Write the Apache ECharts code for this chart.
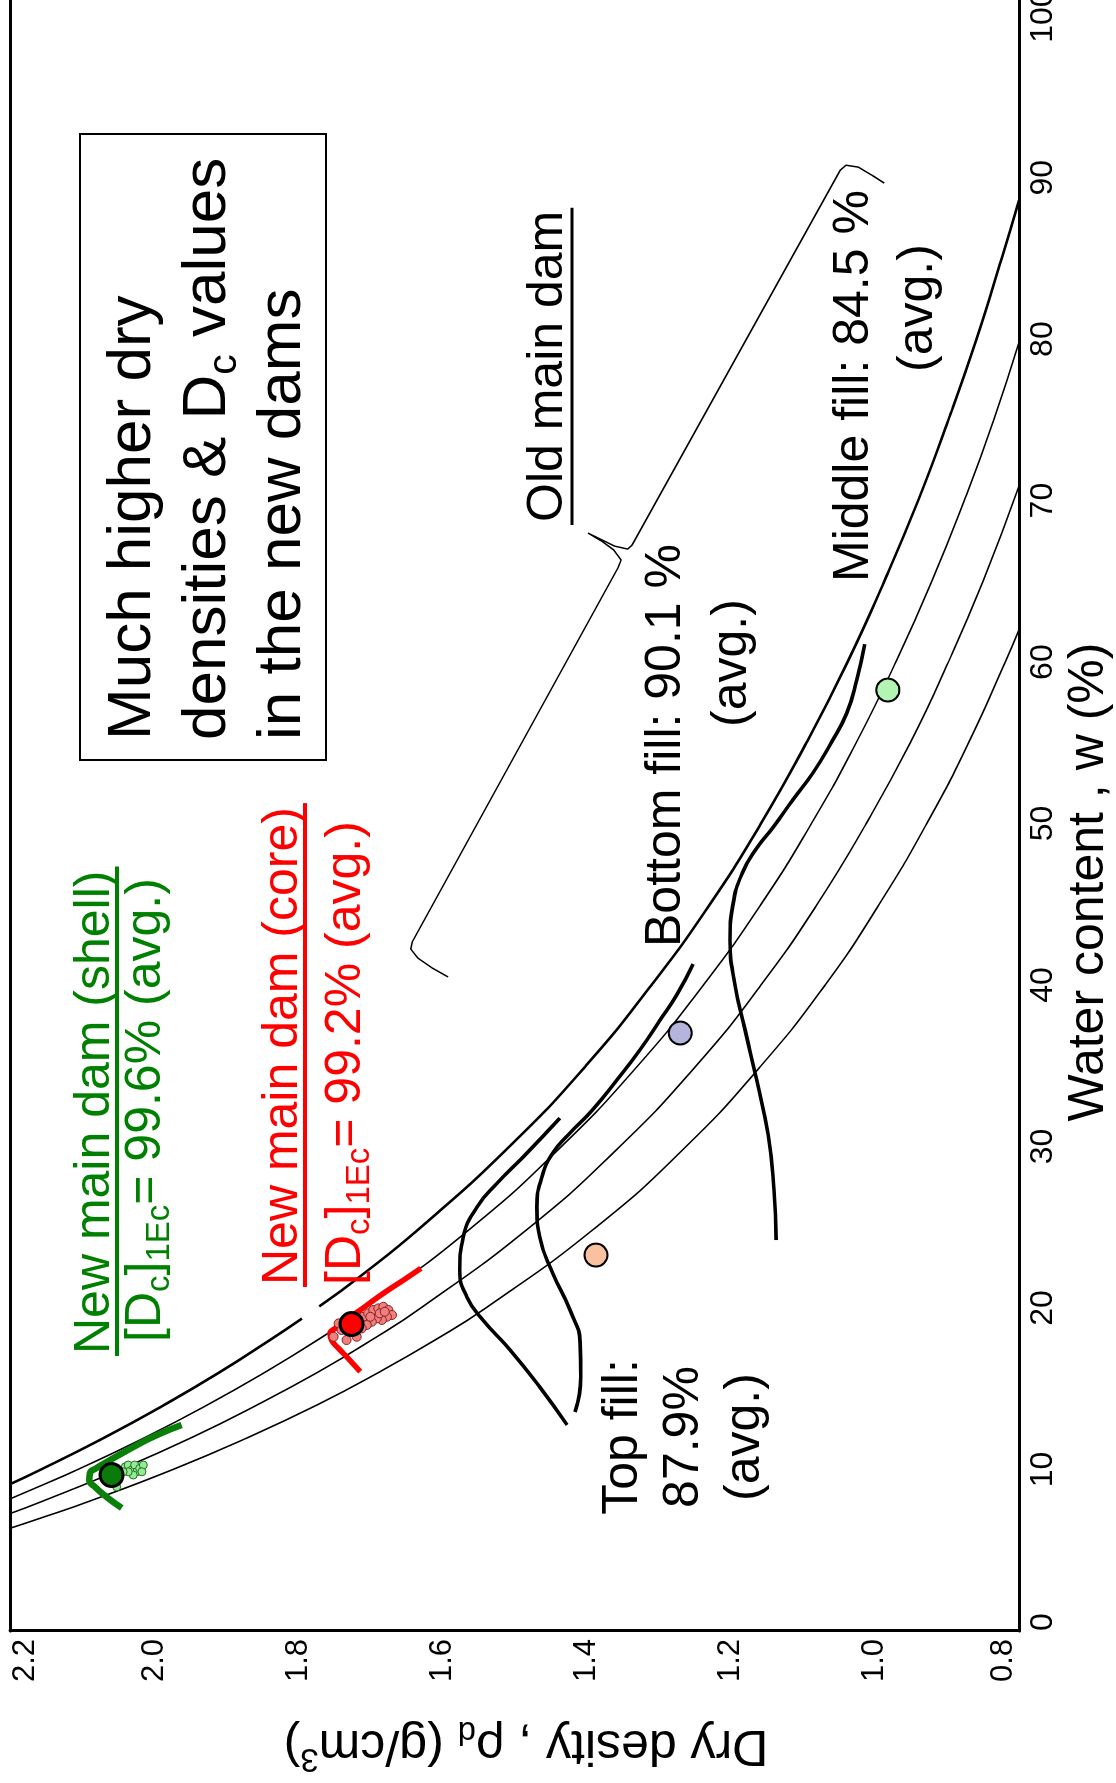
<!DOCTYPE html>
<html>
<head>
<meta charset="utf-8">
<script src="https://cdn.jsdelivr.net/npm/echarts@6/dist/echarts.min.js"></script>
<style>
  html, body { margin: 0; padding: 0; background: #fff; width: 1116px; height: 1783px; overflow: hidden; }
  /* the plot is laid out landscape and turned a quarter turn counter-clockwise */
  #chart { position: absolute; left: 0; top: 0; width: 1783px; height: 1116px;
           transform-origin: 0 0; transform: translate(0, 1783px) rotate(-90deg); }
</style>
</head>
<body>
<div id="chart"></div>
<script>
// ---- axes -------------------------------------------------------------
const waterRange = [0, 101];      // water content w (%)
const waterStep = 10;
const densityRange = [0.8, 2.2];  // dry density (g/cm3)
const densityStep = 0.2;

// ---- degree-of-saturation curves, [w %, rho_d] ---------------------------
const sat100Lower = [[9.09,2.2],[10,2.157],[12,2.068],[14,1.986],[16,1.910],[18,1.840],[19.35,1.795]];
const sat100Upper = [[20.1,1.771],[22,1.713],[25,1.630],[30,1.507],[35,1.401],[40,1.310],[45,1.229],[50,1.158],
  [55,1.095],[60,1.038],[65,0.987],[70,0.940],[75,0.898],[80,0.859],[85,0.824],[88.6,0.800]];
const sat90 = [[8.18,2.2],[9,2.157],[10,2.106],[12,2.012],[14,1.926],[16,1.847],[18,1.774],[20,1.707],[25,1.559],
  [30,1.435],[35,1.329],[40,1.238],[45,1.158],[50,1.088],[55,1.026],[60,0.971],[65,0.921],[70,0.876],[75,0.835],[79.8,0.800]];
const sat80 = [[7.27,2.2],[8,2.157],[10,2.047],[12,1.947],[14,1.857],[16,1.774],[18,1.699],[20,1.630],[25,1.479],
  [30,1.354],[35,1.248],[40,1.158],[45,1.080],[50,1.012],[55,0.951],[60,0.898],[65,0.850],[70.9,0.800]];
const sat70 = [[6.36,2.2],[7,2.157],[8,2.092],[10,1.974],[12,1.869],[14,1.774],[16,1.689],[18,1.611],[20,1.540],
  [25,1.387],[30,1.262],[35,1.158],[40,1.069],[45,0.994],[50,0.928],[55,0.870],[60,0.819],[62.0,0.800]];

// ---- old main dam compaction curves -------------------------------------
const topFill = [[12.76,1.427],[15.11,1.465],[17.40,1.506],[19.26,1.544],[20.68,1.566],[22.35,1.576],[24.40,1.571],
  [26.25,1.552],[27.74,1.524],[29.35,1.488],[31.76,1.437]];
const bottomFill = [[13.56,1.416],[15.73,1.408],[17.83,1.409],[19.88,1.423],[22.17,1.447],[24.40,1.465],[26.25,1.469],
  [28.11,1.462],[29.60,1.447],[30.84,1.423],[32.26,1.392],[34.12,1.358],[35.98,1.326],[37.83,1.298],[39.38,1.275],[41.30,1.252]];
const middleFill = [[24.21,1.137],[27.31,1.140],[30.71,1.148],[34.12,1.164],[37.21,1.180],[40.00,1.194],[42.79,1.201],
  [44.95,1.197],[46.93,1.184],[48.48,1.164],[49.78,1.141],[51.46,1.114],[53.13,1.086],[55.05,1.060],[56.84,1.039],
  [58.89,1.025],[61.11,1.014]];
const topFillAvg = [[23.28,1.387]];
const bottomFillAvg = [[37.03,1.270]];
const middleFillAvg = [[58.27,0.982]];

// brace grouping the old main dam results
const oldDamBrace = [[40.50,1.592],[41.05,1.614],[41.67,1.634],[42.23,1.644],[42.66,1.642],[65.88,1.356],[66.32,1.352],
  [66.93,1.362],[67.49,1.379],[67.99,1.398],[67.62,1.381],[67.18,1.361],[67.00,1.343],[67.24,1.337],[90.46,1.048],
  [90.77,1.040],[90.65,1.023],[90.15,1.004],[89.66,0.987]];

// ---- new main dam ----------------------------------------------------------
const shellCurve = [[7.62,2.045],[8.30,2.066],[8.92,2.082],[9.35,2.090],[9.78,2.089],[10.09,2.080],[10.59,2.061],
  [11.39,2.029],[12.14,1.996],[12.76,1.962]];
const shellTests = [[10.17,2.040],[10.28,2.036],[9.97,2.031],[10.28,2.027],[9.86,2.024],[10.07,2.020],[10.28,2.015],
  [9.86,2.017],[9.66,2.029],[9.86,2.036],[9.86,2.043],[8.93,2.052]];
const shellAvg = [[9.66,2.059]];
const coreCurve = [[16.06,1.714],[16.89,1.731],[17.50,1.744],[18.02,1.754],[18.43,1.756],[18.74,1.749],[19.15,1.738],
  [19.88,1.714],[20.91,1.682],[21.73,1.654],[22.46,1.630]];
const coreTests = [[19.05,1.744],[18.64,1.740],[18.22,1.751],[18.02,1.733],[18.22,1.719],[19.46,1.710],[19.67,1.703],
  [19.88,1.696],[19.98,1.689],[20.08,1.682],[19.88,1.675],[19.57,1.670],[19.46,1.677],[19.26,1.684],[19.36,1.691],
  [19.15,1.698],[18.95,1.705],[18.74,1.712],[19.46,1.700],[19.67,1.687],[19.77,1.680]];
const coreAvg = [[19.01,1.726]];

// ---- drawing --------------------------------------------------------------
const FONT = '"Liberation Sans", Arial, Helvetica, sans-serif';
const GREEN = '#008000', RED = '#ff0000';

const measureCtx = document.createElement('canvas').getContext('2d');
function textWidth(str, size) {
  measureCtx.font = size + 'px ' + FONT;
  return measureCtx.measureText(str).width;
}

function line(data, color, width, smooth) {
  return { type: 'line', data: data, symbol: 'none', smooth: smooth === undefined ? true : smooth,
           lineStyle: { color: color, width: width }, silent: true, z: 2 };
}
function dots(data, size, fill, border, borderWidth) {
  return { type: 'scatter', data: data, symbol: 'circle', symbolSize: size, silent: true, z: 4,
           itemStyle: { color: fill, borderColor: border, borderWidth: borderWidth, opacity: 1 } };
}

function label(x, y, text, size, color, extra) {
  const sub = { fontSize: Math.round(size * 0.66), lineHeight: Math.round(size * 0.66), verticalAlign: 'bottom',
                fontFamily: FONT, fill: color };
  const sup = { fontSize: Math.round(size * 0.66), lineHeight: Math.round(size * 0.66), verticalAlign: 'top',
                fontFamily: FONT, fill: color };
  return Object.assign({
    type: 'text', x: x, y: y, z: 10, silent: true,
    style: Object.assign({
      text: text, fontSize: size, fontFamily: FONT, fill: color,
      align: 'left', textAlign: 'left', verticalAlign: 'middle', textVerticalAlign: 'middle',
      lineHeight: Math.round(size * 1.2),
      rich: { s: sub, p: sup }
    }, (extra && extra.style) || {})
  }, extra && extra.el ? extra.el : {});
}
function underline(x1, x2, y, color, w) {
  return { type: 'line', z: 10, silent: true, shape: { x1: x1, y1: y, x2: x2, y2: y },
           style: { stroke: color, lineWidth: w } };
}

const chart = echarts.init(document.getElementById('chart'), null, { renderer: 'canvas', width: 1783, height: 1116 });

const axisLineStyle = { show: true, onZero: false, lineStyle: { color: '#000', width: 3 } };

const option = {
  animation: false,
  backgroundColor: '#fff',
  grid: { left: 152, right: 0, top: 10, bottom: 97, containLabel: false, outerBoundsMode: 'none' },
  xAxis: [
    { type: 'value', position: 'bottom', min: waterRange[0], max: waterRange[1], interval: waterStep,
      axisLine: axisLineStyle, axisTick: { show: false }, splitLine: { show: false },
      axisLabel: { show: true, color: '#000', fontSize: 32, fontFamily: FONT, margin: 8,
                   showMaxLabel: false, alignMinLabel: 'left' } },
    { type: 'value', position: 'top', min: waterRange[0], max: waterRange[1], interval: waterStep,
      axisLine: axisLineStyle, axisTick: { show: false }, splitLine: { show: false }, axisLabel: { show: false } }
  ],
  yAxis: {
    type: 'value', min: densityRange[0], max: densityRange[1], interval: densityStep,
    axisLine: axisLineStyle, axisTick: { show: false }, splitLine: { show: false },
    axisLabel: { color: '#000', fontSize: 31, fontFamily: FONT, margin: 8,
                 formatter: function (v) { return v.toFixed(1); },
                 verticalAlignMinLabel: 'bottom', verticalAlignMaxLabel: 'top' }
  },
  series: [
    line(sat100Lower, '#000', 2.6),
    line(sat100Upper, '#000', 2.6),
    line(sat90, '#000', 1.6),
    line(sat80, '#000', 1.6),
    line(sat70, '#000', 1.6),
    line(oldDamBrace, '#000', 1.5, false),
    line(topFill, '#000', 3.6),
    line(bottomFill, '#000', 3.6),
    line(middleFill, '#000', 3.6),
    Object.assign(line(shellCurve, '#0a800a', 6.5), { z: 3 }),
    Object.assign(line(coreCurve, RED, 5.5), { z: 3 }),
    dots(shellTests, 8, '#90ee90', '#2d6a2d', 1),
    dots(coreTests, 9, '#f08080', '#8b2020', 1),
    dots(shellAvg, 23, '#0a7a0a', '#000', 3),
    dots(coreAvg, 23, RED, '#000', 3),
    dots(topFillAvg, 23, '#f9c1a0', '#000', 2),
    dots(bottomFillAvg, 23, '#b3b5dc', '#000', 2),
    dots(middleFillAvg, 23, '#b3f5b3', '#000', 2)
  ],
  graphic: [
    // axis titles
    label(901, 1089, 'Water content , w (%)', 50, '#000', { style: { align: 'center', textAlign: 'center' } }),
    label(38, 526, 'Dry desity , ρ{s|d} (g/cm{p|3})', 50, '#000',
          { style: { align: 'center', textAlign: 'center' }, el: { rotation: Math.PI / 2 } }),

    // headline box
    { type: 'rect', z: 9, silent: true, shape: { x: 1023, y: 80, width: 626, height: 246 },
      style: { fill: 'none', stroke: '#000', lineWidth: 2 } },
    label(1043, 208, 'Much higher dry\ndensities & D{s|c} values\nin the new dams', 62, '#000',
          { style: { lineHeight: 75 } }),

    // new main dam
    label(429, 95, 'New main dam (shell)', 50, GREEN),
    underline(427, 429 + textWidth('New main dam (shell)', 50) + 4, 117, GREEN, 4),
    label(441, 146, '[D{s|c}]{s|1Ec}= 99.6% (avg.)', 50, GREEN),
    label(498, 283, 'New main dam (core)', 50, RED),
    underline(496, 498 + textWidth('New main dam (core)', 50) + 4, 305, RED, 4),
    label(498, 346, '[D{s|c}]{s|1Ec}= 99.2% (avg.)', 50, RED),

    // old main dam
    label(1261, 548, 'Old main dam', 50, '#000'),
    underline(1258, 1261 + textWidth('Old main dam', 50) + 3, 572, '#000', 3),
    label(346, 684, 'Top fill:\n87.9%\n(avg.)', 50, '#000',
          { style: { align: 'center', textAlign: 'center', lineHeight: 61 } }),
    label(836, 666, 'Bottom fill: 90.1 %', 50, '#000'),
    label(1056, 732, '(avg.)', 50, '#000'),
    label(1201, 854, 'Middle fill: 84.5 %', 50, '#000'),
    label(1411, 918, '(avg.)', 50, '#000')
  ]
};

chart.setOption(option);
</script>
</body>
</html>
